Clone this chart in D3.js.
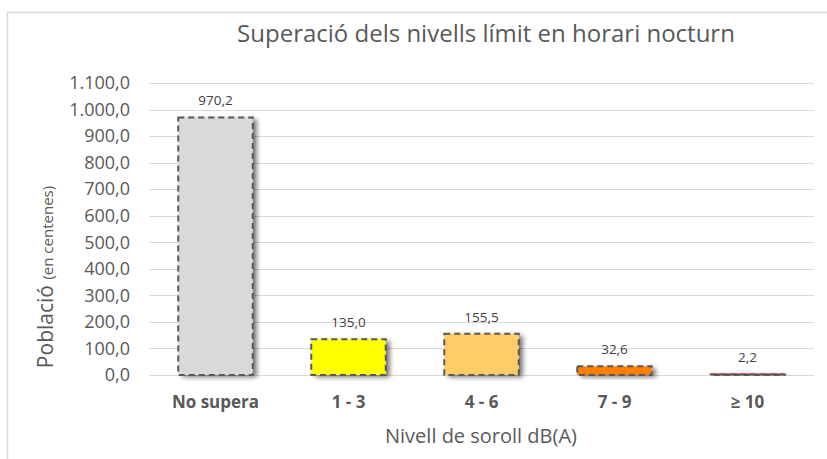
<!DOCTYPE html>
<html>
<head>
<meta charset="utf-8">
<script src="https://cdn.jsdelivr.net/npm/d3@7"></script>
<style>
  html, body { margin: 0; padding: 0; background: #fff; }
  svg { display: block; font-family: "Open Sans", "Liberation Sans", sans-serif; }
</style>
</head>
<body>
<div id="chart"></div>
<script>
// data
const categories = ["No supera", "1 - 3", "4 - 6", "7 - 9", "≥ 10"];
const values = [970.2, 135.0, 155.5, 32.6, 2.2];
const barColors = ["#d9d9d9", "#ffff00", "#ffcc66", "#ff8000", "#ff0000"];
const yTicks = [0, 100, 200, 300, 400, 500, 600, 700, 800, 900, 1000, 1100];

const width = 827, height = 459;
const margin = { top: 83, right: 13, bottom: 84, left: 149 };

const fmt = v => {
  // catalan style: 1.100,0
  const [int, dec] = v.toFixed(1).split(".");
  return int.replace(/\B(?=(\d{3})+(?!\d))/g, ".") + "," + dec;
};

const svg = d3.select("#chart").append("svg")
  .attr("width", width)
  .attr("height", height);

const defs = svg.append("defs");
const shadow = defs.append("filter")
  .attr("id", "shadow")
  .attr("x", "-20%").attr("y", "-50%")
  .attr("width", "160%").attr("height", "200%");
shadow.append("feDropShadow")
  .attr("dx", 4).attr("dy", 2)
  .attr("stdDeviation", 2.5)
  .attr("flood-color", "#000")
  .attr("flood-opacity", 0.55);

/* ─── frame ─── */
svg.append("path")
  .attr("d", `M7.5,${height} V12.5 H${width}`)
  .attr("fill", "none")
  .attr("stroke", "#d9d9d9")
  .attr("stroke-width", 1.5);

/* ─── title ─── */
svg.append("text")
  .attr("x", 486)
  .attr("y", 42)
  .attr("text-anchor", "middle")
  .attr("font-size", 24)
  .attr("fill", "#595959")
  .text("Superació dels nivells límit en horari nocturn");

const iw = width - margin.left - margin.right;
const ih = height - margin.top - margin.bottom;

const g = svg.append("g")
  .attr("transform", `translate(${margin.left},${margin.top})`);

const x = d3.scaleBand()
  .domain(categories)
  .range([0, iw])
  .paddingInner(0.44)
  .paddingOuter(0.22);

const y = d3.scaleLinear()
  .domain([0, 1100])
  .range([ih, 0]);

/* ─── grid ─── */
g.append("g")
  .selectAll("line")
  .data(yTicks)
  .join("line")
  .attr("x1", 0)
  .attr("x2", iw)
  .attr("y1", d => Math.round(y(d)) + 0.5)
  .attr("y2", d => Math.round(y(d)) + 0.5)
  .attr("stroke", "#d9d9d9")
  .attr("stroke-width", 1);

/* ─── y axis ─── */
const yAxis = g.append("g")
  .call(d3.axisLeft(y).tickValues(yTicks).tickFormat(fmt).tickSize(0).tickPadding(19));
yAxis.select(".domain").remove();
yAxis.selectAll("text")
  .attr("font-size", 18)
  .attr("font-family", "Open Sans, sans-serif")
  .attr("fill", "#595959");

/* ─── x axis ─── */
const xAxis = g.append("g")
  .attr("transform", `translate(0,${ih})`)
  .call(d3.axisBottom(x).tickSize(0).tickPadding(21));
xAxis.select(".domain").remove();
xAxis.selectAll("text")
  .attr("font-size", 17)
  .attr("font-weight", "bold")
  .attr("font-family", "Open Sans, sans-serif")
  .attr("fill", "#595959");

/* ─── bars ─── */
const bars = categories.map((c, i) => ({ cat: c, value: values[i], color: barColors[i] }));

// tiny bars still show a sliver of fill between the dashes
const barTop = d => Math.min(y(d.value), y(0) - 1.5);

g.append("g")
  .selectAll("rect")
  .data(bars)
  .join("rect")
  .attr("x", d => x(d.cat))
  .attr("y", barTop)
  .attr("width", x.bandwidth())
  .attr("height", d => y(0) - barTop(d))
  .attr("fill", d => d.color)
  .attr("filter", "url(#shadow)");

g.append("g")
  .selectAll("rect")
  .data(bars)
  .join("rect")
  .attr("x", d => x(d.cat))
  .attr("y", d => y(d.value))
  .attr("width", x.bandwidth())
  .attr("height", d => y(0) - y(d.value))
  .attr("fill", "none")
  .attr("stroke", "#595959")
  .attr("stroke-width", 2)
  .attr("stroke-dasharray", "6,4");

/* ─── data labels ─── */
g.append("g")
  .selectAll("text")
  .data(bars)
  .join("text")
  .attr("x", d => x(d.cat) + x.bandwidth() / 2)
  .attr("y", d => y(d.value) - 12)
  .attr("text-anchor", "middle")
  .attr("font-size", 13.5)
  .attr("fill", "#404040")
  .text(d => fmt(d.value));

/* ─── axis titles ─── */
const yTitle = svg.append("text")
  .attr("transform", `translate(53,277) rotate(-90)`)
  .attr("text-anchor", "middle")
  .attr("fill", "#595959");
yTitle.append("tspan").attr("font-size", 21).text("Població ");
yTitle.append("tspan").attr("font-size", 15).text("(en centenes)");

svg.append("text")
  .attr("x", 481)
  .attr("y", 443)
  .attr("text-anchor", "middle")
  .attr("font-size", 20)
  .attr("fill", "#595959")
  .text("Nivell de soroll dB(A)");
</script>
</body>
</html>
